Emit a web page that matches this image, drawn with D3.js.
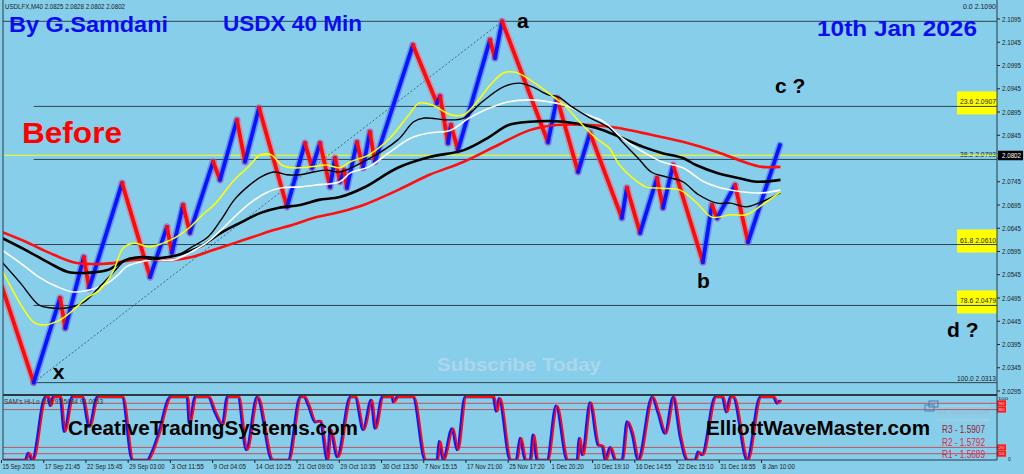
<!DOCTYPE html>
<html><head><meta charset="utf-8">
<script src="https://cdn.jsdelivr.net/npm/d3@7"></script>
<style>
html,body{margin:0;padding:0;background:#87ceeb;overflow:hidden}
svg{display:block;font-family:"Liberation Sans",Arial,sans-serif}
</style></head><body>
<svg id="c" width="1024" height="474"></svg>
<script>
// ---------- DATA ----------
const xTickBars = [0,16,32,48,64,80,96,112,128,144,160,176,192,208,224,240,256,272,288];
const xTickLabels = ["15 Sep 2025","17 Sep 21:45","22 Sep 15:45","29 Sep 03:00","3 Oct 11:55","9 Oct 04:05","14 Oct 10:25","21 Oct 09:00","29 Oct 10:35","30 Oct 13:50","7 Nov 15:15","17 Nov 21:00","25 Nov 17:20","1 Dec 20:20","10 Dec 19:10","16 Dec 14:55","22 Dec 15:10","31 Dec 16:55","8 Jan 10:00"];
const priceTicks = [2.1095,2.1045,2.0995,2.0945,2.0895,2.0845,2.0795,2.0745,2.0695,2.0645,2.0595,2.0545,2.0495,2.0445,2.0395,2.0345,2.0295];

// swing points of the price path [bar, price]
const priceSwings = [
 [0,2.0519],[12,2.0313],[22,2.0495],[24,2.0430],[31,2.0583],[33,2.0516],[45.5,2.0742],
 [56.1,2.0540],[62.5,2.0648],[64.4,2.0592],[68.6,2.0695],[71.2,2.0635],[80,2.0788],[82.6,2.0749],
 [89,2.0878],[92.1,2.0788],[97.4,2.0904],[108,2.0691],[114.8,2.0828],[117.5,2.0775],[120.5,2.0828],
 [124.3,2.0734],[126.2,2.0796],[128.1,2.0745],[129.6,2.0770],[130.7,2.0732],[134.5,2.0830],
 [136.8,2.0775],[139.4,2.0852],[141.3,2.0788],[155.7,2.1039],[164.8,2.0914],[166,2.0929],
 [169,2.0828],[170.1,2.0867],[172.8,2.0813],[184.9,2.1050],[186.8,2.1011],[189.5,2.1090],
 [206.9,2.0830],[210.3,2.0925],[218.3,2.0766],[222.8,2.0850],[234.9,2.0667],[236.8,2.0732],
 [241.8,2.0635],[248.2,2.0753],[250.5,2.0689],[254.3,2.0781],[265.6,2.0572],[269,2.0695],
 [271,2.0667],[277.8,2.0738],[282.7,2.0615],[294.8,2.0824]
];

const maYellow = [[0,2.0555],[12,2.0443],[16,2.0437],[22,2.0448],[27,2.0469],[32,2.0495],[37,2.0512],[42,2.0551],[46,2.0603],[50,2.0613],[56,2.0605],[61,2.0613],[66,2.0626],[71,2.0646],[76,2.0674],[81,2.0699],[88,2.0749],[93,2.0775],[98,2.0803],[102,2.0803],[106,2.0781],[110,2.0775],[117,2.0777],[123,2.0781],[128,2.0775],[132,2.0788],[139,2.0803],[147,2.0839],[155,2.0895],[158,2.0914],[163,2.0910],[170,2.0889],[175,2.0889],[180,2.0917],[185,2.0953],[190,2.0979],[194,2.0981],[197,2.0975],[203,2.0953],[208,2.0932],[213,2.0910],[220,2.0867],[225,2.0839],[230,2.0818],[234,2.0781],[239,2.0753],[244,2.0734],[250,2.0731],[257,2.0727],[263,2.0701],[269,2.0669],[276,2.0674],[282,2.0674],[288,2.0695],[295,2.0723]];
const maBlackThin = [[0,2.0572],[7,2.0527],[14,2.0480],[18,2.0474],[25,2.0474],[31,2.0486],[37,2.0519],[42,2.0549],[47,2.0577],[52,2.0583],[57,2.0577],[63,2.0583],[67,2.0588],[72,2.0605],[78,2.0626],[83,2.0663],[88,2.0706],[93,2.0734],[98,2.0755],[103,2.0766],[108,2.0760],[113,2.0760],[118,2.0766],[123,2.0770],[128,2.0766],[137,2.0788],[150,2.0835],[156,2.0874],[160,2.0882],[169,2.0878],[175,2.0882],[182,2.0917],[190,2.0949],[196,2.0957],[201,2.0949],[207,2.0932],[211,2.0927],[216,2.0906],[223,2.0882],[230,2.0861],[235,2.0831],[241,2.0796],[246,2.0766],[252,2.0755],[258,2.0745],[264,2.0717],[271,2.0699],[276,2.0699],[282,2.0691],[288,2.0702],[295,2.0721]];
const maWhite = [[0,2.0598],[7,2.0570],[14,2.0540],[21,2.0519],[27,2.0508],[33,2.0512],[40,2.0527],[44,2.0545],[47,2.0562],[52,2.0572],[57,2.0577],[65,2.0577],[71,2.0592],[78,2.0616],[83,2.0641],[88,2.0669],[94,2.0699],[100,2.0721],[106,2.0732],[113,2.0734],[119,2.0738],[128,2.0745],[132,2.0764],[139,2.0777],[147,2.0809],[155,2.0839],[162,2.0850],[170,2.0856],[177,2.0882],[185,2.0904],[192,2.0917],[200,2.0921],[207,2.0917],[213,2.0910],[220,2.0893],[228,2.0874],[235,2.0839],[243,2.0809],[250,2.0788],[258,2.0775],[266,2.0745],[273,2.0731],[281,2.0723],[288,2.0721],[295,2.0727]];
const maBlackThick = [[0,2.0624],[9,2.0598],[18,2.0570],[25,2.0551],[32,2.0549],[40,2.0555],[47,2.0577],[53,2.0583],[60,2.0581],[67,2.0588],[75,2.0605],[83,2.0635],[90,2.0656],[98,2.0678],[105,2.0689],[113,2.0695],[120,2.0706],[128,2.0712],[137,2.0732],[150,2.0775],[162,2.0798],[175,2.0813],[184,2.0839],[192,2.0867],[200,2.0874],[213,2.0874],[225,2.0861],[235,2.0839],[243,2.0820],[250,2.0807],[258,2.0796],[263,2.0781],[271,2.0764],[279,2.0753],[286,2.0745],[295,2.0749]];
const maRed = [[0,2.0637],[9,2.0616],[18,2.0592],[27,2.0572],[34,2.0568],[42,2.0570],[50,2.0577],[57,2.0577],[65,2.0577],[72,2.0583],[80,2.0598],[88,2.0613],[95,2.0626],[103,2.0641],[110,2.0652],[118,2.0667],[128,2.0680],[137,2.0695],[150,2.0727],[162,2.0760],[175,2.0788],[188,2.0824],[200,2.0856],[210,2.0867],[223,2.0867],[233,2.0861],[246,2.0846],[258,2.0831],[271,2.0809],[281,2.0788],[288,2.0777],[295,2.0777]];

const fibLevels = ["0.0","23.6","38.2","61.8","78.6","100.0"];
const fibPrices = [2.1090,2.0907,2.0793,2.0610,2.0479,2.0313];
const fibHighlighted = [false,true,false,true,true,false];
const lastPrice = 2.0802;

const oscValues = [[0,0],[8.7,0],[9.9,11],[11.4,0],[16.3,100],[17.4,100],[18.2,86],[19.3,100],[22,100],[23.5,45],[26.5,100],[30.3,100],[33,53],[36,100],[45.5,100],[49.3,0],[55,0],[56.8,13],[59.1,40],[63.7,100],[70.1,100],[70.9,58],[73.1,100],[78.1,100],[80.7,75],[83.4,56],[85.3,100],[89.4,100],[92.5,16],[96.6,100],[102.3,0],[108.4,0],[112.9,100],[114.4,100],[116,87],[118.6,60],[120.5,62],[123.2,0],[124.3,48],[127,5],[131.9,100],[133.8,100],[136.8,48],[139.8,95],[141.3,50],[144,100],[147.8,100],[148.2,92],[149.7,100],[155.7,100],[160.3,0],[164.8,0],[165.6,30],[167.1,0],[170.5,50],[172.4,16],[175.4,100],[186.1,100],[187.2,77],[188.3,98],[192.5,0],[194.8,0],[196.3,35],[198.2,0],[200.1,0],[201.2,40],[202.7,0],[206.5,0],[209.9,86],[214.1,0],[217.9,0],[218.6,35],[219.8,8],[222.8,91],[225.8,24],[227.4,22],[228.5,0],[230.4,20],[232.3,0],[234.9,0],[236.8,61],[238.7,42],[241,0],[246.3,100],[248.6,74],[251.2,42],[254.3,100],[256.9,37],[259.6,0],[262.6,0],[263.7,13],[265.2,8],[270.2,100],[272.9,100],[274.4,76],[275.9,100],[277,100],[282.3,0],[287.2,100],[292.2,100],[293.7,90],[294.8,95]];
const oscLevels = [90,80,20,10];
const oscLevelLabels = ["100","90","80","20","10","0"];
const pivotLabels = ["R3 - 1.5907","R2 - 1.5792","R1 - 1.5689"];
const pivotColors = ["#9b1b30","#dc2a4a","#d8284c"];

// ---------- DRAW ----------
const svg = d3.select("#c");
const W = 1024, H = 474;
const plotL = 3, plotR = 997, mainTop = 1, mainBot = 395, oscTop = 395, oscBot = 460;

const x = d3.scaleLinear().domain([0,288]).range([2,762]);
const y = d3.scaleLinear().domain([2.0295,2.1095]).range([391,19]);
const yo = d3.scaleLinear().domain([0,100]).range([460,397]);

svg.append("rect").attr("width",W).attr("height",H).attr("fill","#87ceeb");

const main = svg.append("g");
const defs = main.append("defs");
defs.append("clipPath").attr("id","mainClip")
  .append("rect").attr("x",plotL).attr("y",mainTop).attr("width",plotR-plotL).attr("height",mainBot-mainTop);
defs.append("clipPath").attr("id","oscClip")
  .append("rect").attr("x",plotL).attr("y",oscTop).attr("width",plotR-plotL).attr("height",oscBot-oscTop);

// yellow highlight boxes
fibPrices.forEach((p,i)=>{
  if(fibHighlighted[i]) main.append("rect").attr("x",957).attr("y",y(p)-15).attr("width",plotR-957).attr("height",23).attr("fill","#ffff00");
});

// fib lines
const lowSwing = d3.least(priceSwings,d=>d[1]);
const highSwing = d3.greatest(priceSwings,d=>d[1]);
fibPrices.forEach((p,i)=>{
  main.append("line").attr("x1", i===0? plotL : x(lowSwing[0])).attr("x2",plotR)
    .attr("y1",y(p)).attr("y2",y(p)).attr("stroke","#2e4450").attr("stroke-width",1);
});
// fib labels
fibPrices.forEach((p,i)=>{
  const t = fibLevels[i]+"  "+p.toFixed(4);
  main.append("text").attr("x",996).attr("y", i===0 ? 9 : y(p)-2).attr("text-anchor","end")
    .attr("font-size",7.5).attr("fill","#1c1c1c").attr("textLength",t.length*3.0).attr("lengthAdjust","spacingAndGlyphs").text(t);
});

// bid line
main.append("line").attr("x1",plotL).attr("x2",plotR).attr("y1",y(lastPrice)).attr("y2",y(lastPrice)).attr("stroke","#ffff00").attr("stroke-width",1);

// dotted trend line x -> a
main.append("line").attr("x1",x(lowSwing[0])).attr("y1",y(lowSwing[1])).attr("x2",x(highSwing[0])).attr("y2",y(highSwing[1]))
  .attr("stroke","#3c4a55").attr("stroke-width",0.8).attr("stroke-dasharray","2,2");

// price zigzag
const pg = main.append("g").attr("clip-path","url(#mainClip)");
const segs = d3.pairs(priceSwings);
segs.forEach(([a,b])=>{
  const up = b[1]>a[1];
  pg.append("line").attr("x1",x(a[0])).attr("y1",y(a[1])).attr("x2",x(b[0])).attr("y2",y(b[1]))
    .attr("stroke", up? "#3a50ff":"#ff5a70").attr("stroke-width",7).attr("stroke-linecap","round").attr("opacity",0.45);
});
segs.forEach(([a,b])=>{
  const up = b[1]>a[1];
  pg.append("line").attr("x1",x(a[0])).attr("y1",y(a[1])).attr("x2",x(b[0])).attr("y2",y(b[1]))
    .attr("stroke", up? "#0a14ff":"#ff0a0a").attr("stroke-width",3.8).attr("stroke-linecap","round");
});

// moving averages
const maLine = d3.line().x(d=>x(d[0])).y(d=>y(d[1])).curve(d3.curveCatmullRom);
const mas = [[maRed,"#ff1010",2.6],[maBlackThick,"#000000",2.6],[maWhite,"#ffffff",1.6],[maBlackThin,"#000000",1.4],[maYellow,"#ffff00",1.5]];
mas.forEach(([d,c,w])=>{
  pg.append("path").datum(d).attr("d",maLine).attr("fill","none").attr("stroke",c).attr("stroke-width",w);
});

// right price axis (skip tick text hidden by the last-price box)
priceTicks.forEach(p=>{
  main.append("line").attr("x1",plotR).attr("x2",plotR+3).attr("y1",y(p)).attr("y2",y(p)).attr("stroke","#222");
  if (Math.abs(y(p)-y(lastPrice)) < 8) return;
  main.append("text").attr("x",1002).attr("y",y(p)+2.5).attr("font-size",7.5).attr("fill","#1c1c1c")
    .attr("textLength",19).attr("lengthAdjust","spacingAndGlyphs").text(p.toFixed(4));
});
// last price label
main.append("rect").attr("x",plotR+1).attr("y",y(lastPrice)-4.5).attr("width",25).attr("height",9.5).attr("fill","#000");
main.append("text").attr("x",1002).attr("y",y(lastPrice)+3).attr("font-size",7.5).attr("fill","#fff")
  .attr("textLength",19).attr("lengthAdjust","spacingAndGlyphs").text(lastPrice.toFixed(4));

// header text
main.append("text").attr("x",5).attr("y",9).attr("font-size",7.5).attr("fill","#1c1c1c")
  .attr("textLength",120).attr("lengthAdjust","spacingAndGlyphs").text("USDLFX,M40  2.0825 2.0828 2.0802 2.0802");

function bigText(t,xx,yy,size,len,fill){
  return main.append("text").attr("x",xx).attr("y",yy).attr("font-size",size).attr("font-weight","bold")
    .attr("fill",fill).attr("textLength",len).attr("lengthAdjust","spacingAndGlyphs").text(t);
}
bigText("By G.Samdani",9,31.5,22,159,"#0c0cf0");
bigText("USDX 40 Min",223,31,22,139,"#0c0cf0");
bigText("10th Jan 2026",817,35.5,22,160,"#0c0cf0");
bigText("Before",22,142.5,29.5,100,"#ff0000");
bigText("Subscribe Today",437,371,19,164,"#abd6ec");

// wave labels
main.append("text").attr("x",x(highSwing[0])+15).attr("y",y(highSwing[1])+7).attr("font-size",21).attr("font-weight","bold").text("a");
main.append("text").attr("x",x(lowSwing[0])+19).attr("y",y(lowSwing[1])-4).attr("font-size",21).attr("font-weight","bold").text("x");
const bSwing = priceSwings[49];
main.append("text").attr("x",x(bSwing[0])-6).attr("y",y(bSwing[1])+26).attr("font-size",21).attr("font-weight","bold").text("b");
main.append("text").attr("x",775).attr("y",93).attr("font-size",21).attr("font-weight","bold").text("c ?");
main.append("text").attr("x",947).attr("y",337).attr("font-size",21).attr("font-weight","bold").text("d ?");

// ---------- OSCILLATOR ----------
const og = svg.append("g");
oscLevels.forEach(l=>{
  og.append("line").attr("x1",plotL).attr("x2",plotR).attr("y1",yo(l)).attr("y2",yo(l)).attr("stroke","#c8505a").attr("stroke-width",1);
});
const oscLine = d3.line().x(d=>x(d[0])).y(d=>yo(d[1])).curve(d3.curveMonotoneX);
const ocl = og.append("g").attr("clip-path","url(#oscClip)");
ocl.append("path").datum(oscValues).attr("d",oscLine).attr("fill","none").attr("stroke","#1414ff").attr("stroke-width",2.6);
ocl.append("path").datum(oscValues).attr("d",oscLine).attr("fill","none").attr("stroke","#ff0a0a").attr("stroke-width",1.8).attr("transform","translate(1.5,0)");

og.append("text").attr("x",4).attr("y",404).attr("font-size",7.5).attr("fill","#333")
  .attr("textLength",99).attr("lengthAdjust","spacingAndGlyphs").text("SAM's Hi-Lo Osc 93.5684 91.0053");

// watermarks
og.append("text").attr("x",68).attr("y",435).attr("font-size",20.5).attr("font-weight","bold").attr("fill","#000")
  .attr("textLength",290).attr("lengthAdjust","spacingAndGlyphs").text("CreativeTradingSystems.com");
og.append("text").attr("x",706).attr("y",435).attr("font-size",20.5).attr("font-weight","bold").attr("fill","#000")
  .attr("textLength",224).attr("lengthAdjust","spacingAndGlyphs").text("ElliottWaveMaster.com");

// pivots panel
og.append("line").attr("x1",930).attr("x2",990).attr("y1",406).attr("y2",406).attr("stroke","#b9cdd8");
og.append("line").attr("x1",937).attr("x2",990).attr("y1",420).attr("y2",420).attr("stroke","#b9cdd8");
og.append("rect").attr("x",929).attr("y",401).attr("width",9).attr("height",6).attr("fill","none").attr("stroke","#4a78b8");
og.append("rect").attr("x",925).attr("y",405).attr("width",9).attr("height",6).attr("fill","none").attr("stroke","#4a78b8");
og.append("text").attr("x",938).attr("y",415).attr("font-size",4.8).attr("font-weight","bold").attr("fill","#9fbcd0")
  .attr("textLength",52).attr("lengthAdjust","spacingAndGlyphs").text("SFX - WEEKLY PIVOTS");
pivotLabels.forEach((t,i)=>{
  og.append("text").attr("x",942).attr("y",433+i*12.7).attr("font-size",10.5).attr("fill",pivotColors[i])
    .attr("textLength",43).attr("lengthAdjust","spacingAndGlyphs").text(t);
});

// osc level boxes
oscLevels.forEach(l=>{
  og.append("rect").attr("x",plotR).attr("y",yo(l)-3).attr("width",9).attr("height",6).attr("fill","#ff1a1a");
  og.append("text").attr("x",plotR+1.5).attr("y",yo(l)+1.5).attr("font-size",4).attr("fill","#ffd8d8")
    .attr("textLength",6).attr("lengthAdjust","spacingAndGlyphs").text(String(l));
});
og.append("text").attr("x",plotR+1).attr("y",399.6).attr("font-size",4.2).attr("fill","#222").attr("textLength",10).attr("lengthAdjust","spacingAndGlyphs").text(oscLevelLabels[0]);
og.append("text").attr("x",plotR+11).attr("y",461).attr("font-size",5).attr("fill","#222").text(oscLevelLabels[5]);

// frames
svg.append("line").attr("x1",plotL).attr("x2",plotL).attr("y1",0).attr("y2",oscBot).attr("stroke","#2a3a44");
svg.append("line").attr("x1",plotR).attr("x2",plotR).attr("y1",0).attr("y2",oscBot).attr("stroke","#2a3a44");
svg.append("line").attr("x1",plotL).attr("x2",plotR).attr("y1",mainBot).attr("y2",mainBot).attr("stroke","#2a3a44").attr("stroke-width",2);
svg.append("line").attr("x1",plotL).attr("x2",plotR).attr("y1",oscBot).attr("y2",oscBot).attr("stroke","#2a3a44");

// x axis
xTickBars.forEach((b,i)=>{
  svg.append("line").attr("x1",x(b)-0.5).attr("x2",x(b)-0.5).attr("y1",oscBot).attr("y2",oscBot+3).attr("stroke","#222");
  const t = xTickLabels[i];
  svg.append("text").attr("x",x(b)+0.5).attr("y",469).attr("font-size",7.5).attr("fill","#1c1c1c")
    .attr("textLength",t.length*2.95).attr("lengthAdjust","spacingAndGlyphs").text(t);
});
</script>
</body></html>
